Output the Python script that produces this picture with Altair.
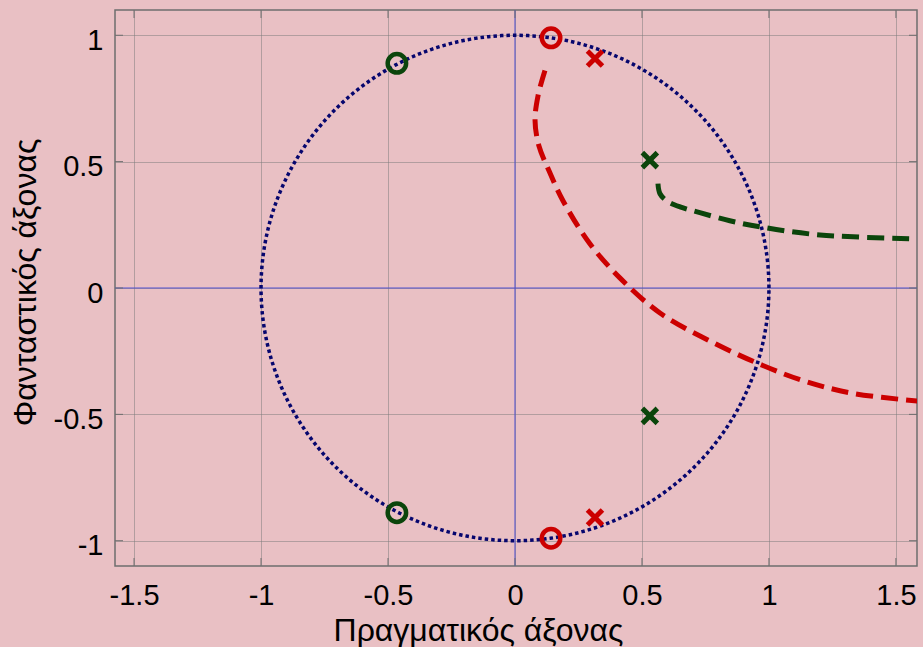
import altair as alt
import numpy as np
import pandas as pd

# Zeros (o) and poles (x) of the two filter sections
zeros_red_re = [0.142, 0.142]
zeros_red_im = [0.99, -0.99]
zeros_green_re = [-0.465, -0.465]
zeros_green_im = [0.889, -0.889]
poles_red_re = [0.315, 0.315]
poles_red_im = [0.908, -0.908]
poles_green_re = [0.531, 0.531]
poles_green_im = [0.506, -0.506]

# Locus curves
red_re = [0.118, 0.091, 0.079, 0.094, 0.134, 0.189, 0.295, 0.413, 0.571, 0.768, 0.965, 1.142, 1.331, 1.594]
red_im = [0.861, 0.762, 0.663, 0.563, 0.464, 0.345, 0.175, 0.040, -0.099, -0.210, -0.302, -0.369, -0.417, -0.448]
green_re = [0.563, 0.571, 0.598, 0.650, 0.728, 0.846, 0.965, 1.201, 1.594]
green_im = [0.413, 0.373, 0.345, 0.321, 0.298, 0.266, 0.242, 0.210, 0.194]

x_ticks = [-1.5, -1, -0.5, 0, 0.5, 1, 1.5]
y_ticks = [-1, -0.5, 0, 0.5, 1]

W, H = 802, 556
FONT = "Liberation Sans"
RED = "#cc0000"
GREEN = "#0b450b"
NAVY = "#06066e"
FRAME = "#6e6e6e"

# Unit circle
theta = np.linspace(0, 2 * np.pi, 361)
circle = pd.DataFrame({"re": np.cos(theta), "im": np.sin(theta), "k": np.arange(361)})

red_df = pd.DataFrame({"re": red_re, "im": red_im, "k": range(len(red_re))})
green_df = pd.DataFrame({"re": green_re, "im": green_im, "k": range(len(green_re))})

xs = alt.Scale(domain=[-1.575, 1.583], nice=False, zero=False)
ys = alt.Scale(domain=[-1.1, 1.1], nice=False, zero=False)

x_axis = alt.Axis(
    values=x_ticks, title="Πραγματικός άξονας", labelExpr="datum.value + ''",
    grid=True, domain=False, ticks=False, labelPadding=15, labelBaseline="top",
    titleX=363, titleY=74, titleBaseline="alphabetic", titleAnchor="middle",
)
y_axis = alt.Axis(
    values=y_ticks, title="Φανταστικός άξονας", labelExpr="datum.value + ''",
    grid=True, domain=False, ticks=False, labelPadding=12, labelBaseline="alphabetic",
    labelOffset=14, titleX=-80, titleY=272, titleBaseline="alphabetic",
    titleAngle=-90, titleAnchor="middle",
)

base_axes = alt.Chart(pd.DataFrame({"re": [0.0], "im": [0.0]})).mark_point(opacity=0).encode(
    x=alt.X("re:Q", scale=xs, axis=x_axis),
    y=alt.Y("im:Q", scale=ys, axis=y_axis),
)

zero_df = pd.DataFrame({"v": [0.0]})
zero_v = alt.Chart(zero_df).mark_rule(color="#5050d0", strokeWidth=1).encode(
    x=alt.X("v:Q", scale=xs))
zero_h = alt.Chart(zero_df).mark_rule(color="#5050d0", strokeWidth=1).encode(
    y=alt.Y("v:Q", scale=ys))

red_line = alt.Chart(red_df).mark_line(
    color=RED, strokeWidth=5, strokeDash=[17, 8], interpolate="catmull-rom", clip=True
).encode(x=alt.X("re:Q", scale=xs), y=alt.Y("im:Q", scale=ys), order="k:Q")

green_line = alt.Chart(green_df).mark_line(
    color=GREEN, strokeWidth=5, strokeDash=[17, 8], interpolate="catmull-rom", clip=True
).encode(x=alt.X("re:Q", scale=xs), y=alt.Y("im:Q", scale=ys), order="k:Q")

unit_circle = alt.Chart(circle).mark_line(
    color=NAVY, strokeWidth=3.5, strokeDash=[3.5, 3], strokeCap="butt"
).encode(x=alt.X("re:Q", scale=xs), y=alt.Y("im:Q", scale=ys), order="k:Q")

CROSS = "M-1,-1L1,1M-1,1L1,-1"


def markers(re, im, color, shape, size, width):
    df = pd.DataFrame({"re": re, "im": im})
    return alt.Chart(df).mark_point(
        shape=shape, size=size, filled=False, color=color, strokeWidth=width, opacity=1
    ).encode(x=alt.X("re:Q", scale=xs), y=alt.Y("im:Q", scale=ys))


z_red = markers(zeros_red_re, zeros_red_im, RED, "circle", 340, 4.5)
z_green = markers(zeros_green_re, zeros_green_im, GREEN, "circle", 340, 4.5)
p_red = markers(poles_red_re, poles_red_im, RED, CROSS, 225, 5)
p_green = markers(poles_green_re, poles_green_im, GREEN, CROSS, 225, 5)

# Short inward tick marks on all four sides of the frame
xt = pd.DataFrame({"v": x_ticks})
yt = pd.DataFrame({"v": y_ticks})
tick_bottom = alt.Chart(xt).mark_rule(color=FRAME, strokeWidth=1).encode(
    x=alt.X("v:Q", scale=xs), y=alt.value(H), y2=alt.value(H - 8))
tick_top = alt.Chart(xt).mark_rule(color=FRAME, strokeWidth=1).encode(
    x=alt.X("v:Q", scale=xs), y=alt.value(0), y2=alt.value(8))
tick_left = alt.Chart(yt).mark_rule(color=FRAME, strokeWidth=1).encode(
    y=alt.Y("v:Q", scale=ys), x=alt.value(0), x2=alt.value(8))
tick_right = alt.Chart(yt).mark_rule(color=FRAME, strokeWidth=1).encode(
    y=alt.Y("v:Q", scale=ys), x=alt.value(W), x2=alt.value(W - 8))

chart = alt.layer(
    base_axes, zero_v, zero_h, red_line, green_line, unit_circle,
    z_red, z_green, p_red, p_green,
    tick_bottom, tick_top, tick_left, tick_right,
).properties(
    width=W, height=H,
    autosize=alt.AutoSizeParams(type="none"),
    padding={"left": 115, "top": 10, "right": 6, "bottom": 81},
).configure(
    background="#e9c0c4",
).configure_view(
    stroke=FRAME, strokeWidth=1.5, fill=None,
).configure_axis(
    labelFont=FONT, labelFontSize=29, labelColor="#000000",
    titleFont=FONT, titleFontSize=32, titleColor="#000000", titleFontWeight="normal",
    gridColor="#7a7a7a", gridDash=[1, 1], gridWidth=1, gridOpacity=1,
)

chart.save("out.html", embed_options={"renderer": "svg", "actions": False})
